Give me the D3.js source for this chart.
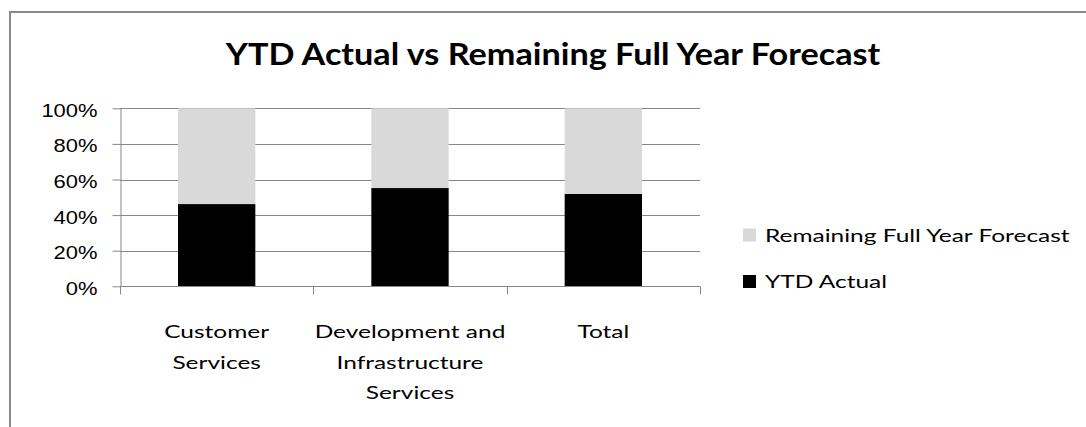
<!DOCTYPE html>
<html>
<head>
<meta charset="utf-8">
<script src="https://cdn.jsdelivr.net/npm/d3@7"></script>
<style>
  html, body { margin: 0; padding: 0; background: #fff; }
  svg { display: block; font-family: Lato, "Open Sans", sans-serif; }
</style>
</head>
<body>
<div id="chart"></div>
<script>
// data
const categories = ["Customer Services", "Development and Infrastructure Services", "Total"]
const categoryLines = [["Customer", "Services"], ["Development and", "Infrastructure", "Services"], ["Total"]]
const ytdActual = [0.462, 0.552, 0.519]
const remainingForecast = ytdActual.map(v => 1 - v)   // stacked to 100%
const seriesNames = ["YTD Actual", "Remaining Full Year Forecast"]
const yTicks = [0, 0.2, 0.4, 0.6, 0.8, 1]

const width = 1086,
    height = 427,
    margin = { top: 108.3, right: 386, bottom: 140.7, left: 120 },
    stretch = 1.36,   // the picture is drawn a bit wide
    fontSize = "18px",
    colors = d3.scaleOrdinal(seriesNames, ["#000000", "#d9d9d9"]),
    axisColor = "#878787"

const svg = d3.select("#chart").append("svg")
    .attr("width", width)
    .attr("height", height)

// chart frame, cut off at right and bottom
svg.append("rect")
    .attr("x", 10).attr("y", 12)
    .attr("width", width + 20).attr("height", height + 20)
    .attr("fill", "none")
    .attr("stroke", "#898989")
    .attr("stroke-width", 2)

const x = d3.scaleBand()
    .domain(categories)
    .range([margin.left, width - margin.right])
    .paddingInner(0.6)
    .paddingOuter(0.3)

const y = d3.scaleLinear()
    .domain([0, 1])
    .range([height - margin.bottom, margin.top])

// stretch a text horizontally around its anchor point
function wide(sel, s) {
    sel.each(function () {
        const t = d3.select(this)
        const tx = +t.attr("x") || 0, ty = +t.attr("y") || 0
        t.attr("x", 0).attr("y", 0)
            .attr("transform", `translate(${tx},${ty}) scale(${s},1)`)
    })
}

// gridlines
svg.append("g")
    .selectAll("line")
    .data(yTicks.filter(d => d > 0))
    .join("line")
    .attr("x1", margin.left)
    .attr("x2", width - margin.right)
    .attr("y1", d => Math.round(y(d)) + 0.5)
    .attr("y2", d => Math.round(y(d)) + 0.5)
    .attr("stroke", axisColor)

// stacked bars
const stacked = d3.stack().keys(seriesNames)(categories.map((c, i) => ({
    cat: c, "YTD Actual": ytdActual[i], "Remaining Full Year Forecast": remainingForecast[i]
})))

svg.append("g")
    .selectAll("g")
    .data(stacked)
    .join("g")
    .attr("fill", d => colors(d.key))
    .selectAll("rect")
    .data(d => d)
    .join("rect")
    .attr("x", d => x(d.data.cat))
    .attr("width", x.bandwidth())
    .attr("y", d => y(d[1]))
    .attr("height", d => y(d[0]) - y(d[1]))

// y axis
const yAxis = svg.append("g")
    .attr("transform", `translate(${margin.left + 0.5},0)`)
    .call(d3.axisLeft(y).tickValues(yTicks).tickSize(8).tickSizeOuter(0).tickFormat(d3.format(".0%")))
yAxis.select(".domain").attr("stroke", axisColor)
yAxis.selectAll(".tick line").attr("stroke", axisColor)
yAxis.selectAll(".tick text")
    .attr("x", -23)
    .attr("y", 8)
    .attr("dy", null)
    .attr("fill", "#000")
    .style("font-size", fontSize)
    .call(wide, 1.22)

// x axis with ticks between the categories
const xEdge = d3.scaleLinear().domain([0, categories.length]).range([margin.left, width - margin.right])
const xAxis = svg.append("g")
    .attr("transform", `translate(0,${Math.round(y(0)) + 0.5})`)
xAxis.append("line")
    .attr("x1", margin.left).attr("x2", width - margin.right)
    .attr("stroke", axisColor)
xAxis.selectAll(".edge")
    .data(d3.range(categories.length + 1))
    .join("line")
    .attr("class", "edge")
    .attr("x1", d => Math.round(xEdge(d)) + 0.5)
    .attr("x2", d => Math.round(xEdge(d)) + 0.5)
    .attr("y1", 0).attr("y2", 8)
    .attr("stroke", axisColor)

// category labels, wrapped like the original
svg.append("g")
    .selectAll("g")
    .data(categories)
    .join("g")
    .each(function (c, i) {
        d3.select(this).selectAll("text")
            .data(categoryLines[i])
            .join("text")
            .attr("x", x(c) + x.bandwidth() / 2)
            .attr("y", (d, j) => 338 + j * 30.5)
            .attr("text-anchor", "middle")
            .style("font-size", fontSize)
            .text(d => d)
            .call(wide, stretch)
    })

// title
svg.append("text")
    .attr("x", 553)
    .attr("y", 65)
    .attr("text-anchor", "middle")
    .style("font-size", "31px")
    .style("font-weight", "bold")
    .text("YTD Actual vs Remaining Full Year Forecast")
    .each(function () {
        const w = this.getComputedTextLength()
        d3.select(this).call(wide, 655 / w)
    })

// legend, listed top-down in reverse stack order
const legend = svg.append("g")
    .selectAll("g")
    .data(seriesNames.slice().reverse())
    .join("g")
    .attr("transform", (d, i) => `translate(743,${235 + i * 46.5})`)

legend.append("rect")
    .attr("x", 0).attr("y", -6.5)
    .attr("width", 13).attr("height", 13)
    .attr("fill", d => colors(d))

legend.append("text")
    .attr("x", 22)
    .attr("y", 6.5)
    .style("font-size", fontSize)
    .text(d => d)
    .call(wide, stretch)
</script>
</body>
</html>
